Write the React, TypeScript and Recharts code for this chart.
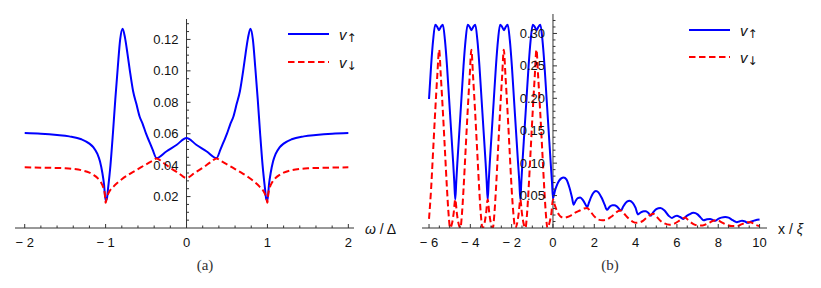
import React from "react";
import {
  LineChart,
  Line,
  XAxis,
  YAxis,
  ReferenceLine,
  ReferenceDot,
  Legend,
} from "recharts";

// ---- panel (a): omega / Delta ----
const aUpX = [
  -2, -1.8, -1.6, -1.45, -1.3, -1.2, -1.15, -1.1, -1.07, -1.04,
  -1.02, -1.0, -0.985, -0.97, -0.94, -0.91, -0.88, -0.85, -0.82, -0.79,
  -0.76, -0.73, -0.7, -0.66, -0.62, -0.58, -0.54, -0.5, -0.46, -0.42,
  -0.37, -0.25, -0.12, 0,
  0.12, 0.25, 0.37, 0.42, 0.46, 0.5, 0.54, 0.58, 0.62, 0.66,
  0.7, 0.73, 0.76, 0.79, 0.82, 0.85, 0.88, 0.91, 0.94, 0.97,
  0.985, 1.0, 1.02, 1.04, 1.07, 1.1, 1.15, 1.2, 1.3, 1.45,
  1.6, 1.8, 2,
];
const aUpV = [
  0.0604, 0.06, 0.0592, 0.0583, 0.0565, 0.0537, 0.0513, 0.047, 0.0425, 0.035,
  0.028, 0.0175, 0.0185, 0.025, 0.04, 0.06, 0.082, 0.102, 0.12, 0.1268,
  0.121, 0.111, 0.1, 0.087, 0.079, 0.071, 0.066, 0.06, 0.055, 0.05,
  0.0445, 0.0487, 0.053, 0.0573,
  0.053, 0.0487, 0.0445, 0.05, 0.055, 0.06, 0.066, 0.071, 0.079, 0.087,
  0.1, 0.111, 0.121, 0.1268, 0.12, 0.102, 0.082, 0.06, 0.04, 0.025,
  0.0185, 0.0175, 0.028, 0.035, 0.0425, 0.047, 0.0513, 0.0537, 0.0565, 0.0583,
  0.0592, 0.06, 0.0604,
];

const aDownX = [
  -2, -1.7, -1.5, -1.4, -1.3, -1.2, -1.15, -1.1, -1.06, -1.03,
  -1.01, -1.0, -0.985, -0.97, -0.95, -0.9, -0.8, -0.7, -0.6, -0.5,
  -0.42, -0.37, -0.3, -0.2, -0.1, 0,
  0.1, 0.2, 0.3, 0.37, 0.42, 0.5, 0.6, 0.7, 0.8, 0.9,
  0.95, 0.97, 0.985, 1.0, 1.01, 1.03, 1.06, 1.1, 1.15, 1.2,
  1.3, 1.4, 1.5, 1.7, 2,
];
const aDownV = [
  0.0386, 0.0383, 0.038, 0.0376, 0.0368, 0.0352, 0.0338, 0.0318, 0.0292, 0.026,
  0.0215, 0.016, 0.0195, 0.0215, 0.0235, 0.0265, 0.031, 0.0345, 0.0375, 0.0405,
  0.0428, 0.0443, 0.042, 0.0383, 0.035, 0.0318,
  0.035, 0.0383, 0.042, 0.0443, 0.0428, 0.0405, 0.0375, 0.0345, 0.031, 0.0265,
  0.0235, 0.0215, 0.0195, 0.016, 0.0215, 0.026, 0.0292, 0.0318, 0.0338, 0.0352,
  0.0368, 0.0376, 0.038, 0.0383, 0.0386,
];

const aXMajor = [-2, -1, 0, 1, 2];
const aXLabels = ["\u2212 2", "\u2212 1", "0", "1", "2"];
const aXTicks = [
  -2, -1.8, -1.6, -1.4, -1.2, -1, -0.8, -0.6, -0.4, -0.2, 0,
  0.2, 0.4, 0.6, 0.8, 1, 1.2, 1.4, 1.6, 1.8, 2,
];
const aYMajor = [0.02, 0.04, 0.06, 0.08, 0.1, 0.12];
const aYLabels = ["0.02", "0.04", "0.06", "0.08", "0.10", "0.12"];
const aYTicks = [
  0.005, 0.01, 0.015, 0.02, 0.025, 0.03, 0.035, 0.04, 0.045, 0.05,
  0.055, 0.06, 0.065, 0.07, 0.075, 0.08, 0.085, 0.09, 0.095, 0.1,
  0.105, 0.11, 0.115, 0.12, 0.125, 0.13,
];

// ---- panel (b): x / xi ----
const bUpX = [
  -6.0, -5.9, -5.8, -5.7, -5.6, -5.52, -5.43, -5.33, -5.23, -5.13,
  -5.03, -4.93, -4.83, -4.78, -4.73, -4.68, -4.63, -4.53, -4.43, -4.33,
  -4.23, -4.13, -4.03, -3.95, -3.86, -3.76, -3.66, -3.56, -3.46, -3.36,
  -3.26, -3.21, -3.16, -3.11, -3.06, -2.96, -2.86, -2.76, -2.66, -2.56,
  -2.46, -2.37, -2.29, -2.19, -2.09, -1.99, -1.89, -1.79, -1.69, -1.63,
  -1.58, -1.53, -1.48, -1.38, -1.28, -1.18, -1.08, -0.98, -0.88, -0.79,
  -0.71, -0.61, -0.51, -0.41, -0.31, -0.21, -0.11, -0.05, 0, 0.1,
  0.2, 0.3, 0.4, 0.52, 0.65, 0.8, 0.92, 1.0, 1.1, 1.2,
  1.32, 1.45, 1.58, 1.65, 1.75, 1.85, 1.95, 2.08, 2.2, 2.35,
  2.5, 2.61, 2.75, 2.88, 2.97, 3.1, 3.29, 3.4, 3.5, 3.6,
  3.7, 3.85, 4.0, 4.11, 4.25, 4.4, 4.5, 4.62, 4.74, 4.85,
  5.0, 5.2, 5.4, 5.6, 5.76, 5.9, 6.0, 6.15, 6.32, 6.45,
  6.6, 6.8, 7.0, 7.15, 7.29, 7.45, 7.61, 7.75, 7.85, 8.0,
  8.15, 8.34, 8.5, 8.7, 8.9, 9.05, 9.15, 9.3, 9.42, 9.6,
  9.8, 10.0,
];
const bUpV = [
  0.199, 0.25, 0.29, 0.3135, 0.31, 0.305, 0.31, 0.3135, 0.29, 0.25,
  0.2, 0.15, 0.1, 0.072, 0.044, 0.072, 0.1, 0.15, 0.2, 0.25,
  0.29, 0.3135, 0.31, 0.305, 0.31, 0.3135, 0.29, 0.25, 0.2, 0.15,
  0.1, 0.072, 0.044, 0.072, 0.1, 0.15, 0.2, 0.25, 0.29, 0.3135,
  0.31, 0.305, 0.31, 0.3135, 0.29, 0.25, 0.2, 0.15, 0.1, 0.072,
  0.044, 0.072, 0.1, 0.15, 0.2, 0.25, 0.29, 0.3135, 0.31, 0.305,
  0.31, 0.3135, 0.29, 0.25, 0.2, 0.15, 0.1, 0.072, 0.046, 0.058,
  0.067, 0.073, 0.0765, 0.078, 0.075, 0.062, 0.047, 0.036, 0.042, 0.046,
  0.047, 0.043, 0.036, 0.032, 0.04, 0.048, 0.054, 0.057, 0.055, 0.047,
  0.036, 0.028, 0.033, 0.035, 0.035, 0.033, 0.027, 0.033, 0.038, 0.041,
  0.042, 0.039, 0.031, 0.021, 0.024, 0.026, 0.026, 0.023, 0.019, 0.024,
  0.029, 0.031, 0.027, 0.019, 0.0155, 0.018, 0.019, 0.017, 0.014, 0.018,
  0.021, 0.0235, 0.021, 0.016, 0.012, 0.0135, 0.014, 0.012, 0.011, 0.014,
  0.016, 0.017, 0.016, 0.012, 0.009, 0.0105, 0.011, 0.01, 0.008, 0.01,
  0.012, 0.013,
];

const bDownX = [
  -6.0, -5.9, -5.8, -5.7, -5.6, -5.51, -5.43, -5.33, -5.23, -5.13,
  -5.05, -4.98, -4.88, -4.81, -4.73, -4.65, -4.58, -4.48, -4.41, -4.33,
  -4.23, -4.13, -4.03, -3.95, -3.87, -3.77, -3.67, -3.57, -3.49, -3.41,
  -3.31, -3.24, -3.16, -3.08, -3.01, -2.91, -2.84, -2.76, -2.66, -2.56,
  -2.46, -2.38, -2.3, -2.2, -2.1, -2.0, -1.91, -1.83, -1.73, -1.66,
  -1.58, -1.5, -1.43, -1.33, -1.26, -1.18, -1.08, -0.98, -0.88, -0.8,
  -0.72, -0.62, -0.52, -0.42, -0.34, -0.27, -0.17, -0.08, 0, 0.1,
  0.2, 0.3, 0.4, 0.55, 0.7, 0.9, 1.1, 1.3, 1.5, 1.65,
  1.8, 2.0, 2.2, 2.4, 2.6, 2.8, 3.0, 3.15, 3.3, 3.45,
  3.65, 3.85, 4.05, 4.3, 4.5, 4.7, 4.85, 5.0, 5.2, 5.4,
  5.65, 5.9, 6.1, 6.3, 6.4, 6.55, 6.8, 7.0, 7.25, 7.5,
  7.75, 7.95, 8.15, 8.4, 8.65, 8.9, 9.15, 9.4, 9.55, 9.8,
  10.0,
];
const bDownV = [
  0.014, 0.06, 0.12, 0.18, 0.235, 0.275, 0.235, 0.18, 0.12, 0.06,
  0.02, 0.0, 0.008, 0.022, 0.044, 0.022, 0.008, 0.0, 0.02, 0.06,
  0.12, 0.18, 0.235, 0.275, 0.235, 0.18, 0.12, 0.06, 0.02, 0.0,
  0.008, 0.022, 0.044, 0.022, 0.008, 0.0, 0.02, 0.06, 0.12, 0.18,
  0.235, 0.275, 0.235, 0.18, 0.12, 0.06, 0.02, 0.0, 0.008, 0.022,
  0.044, 0.022, 0.008, 0.0, 0.02, 0.06, 0.12, 0.18, 0.235, 0.275,
  0.235, 0.18, 0.12, 0.06, 0.02, 0.0, 0.008, 0.022, 0.044, 0.034,
  0.026, 0.02, 0.017, 0.016, 0.017, 0.02, 0.024, 0.027, 0.03, 0.031,
  0.026, 0.018, 0.013, 0.012, 0.013, 0.017, 0.022, 0.026, 0.027, 0.022,
  0.015, 0.01, 0.008, 0.01, 0.015, 0.02, 0.022, 0.018, 0.011, 0.007,
  0.005, 0.007, 0.011, 0.015, 0.016, 0.012, 0.006, 0.004, 0.004, 0.007,
  0.011, 0.012, 0.009, 0.005, 0.003, 0.003, 0.006, 0.009, 0.009, 0.005,
  0.003,
];

const bXMajor = [-6, -4, -2, 0, 2, 4, 6, 8, 10];
const bXLabels = ["\u2212 6", "\u2212 4", "\u2212 2", "0", "2", "4", "6", "8", "10"];
const bXTicks = [
  -6, -5.5, -5, -4.5, -4, -3.5, -3, -2.5, -2, -1.5, -1, -0.5, 0,
  0.5, 1, 1.5, 2, 2.5, 3, 3.5, 4, 4.5, 5, 5.5, 6, 6.5, 7, 7.5, 8,
  8.5, 9, 9.5, 10,
];
const bYMajor = [0.05, 0.1, 0.15, 0.2, 0.25, 0.3];
const bYLabels = ["0.05", "0.10", "0.15", "0.20", "0.25", "0.30"];
const bYTicks = [
  0.01, 0.02, 0.03, 0.04, 0.05, 0.06, 0.07, 0.08, 0.09, 0.1,
  0.11, 0.12, 0.13, 0.14, 0.15, 0.16, 0.17, 0.18, 0.19, 0.2,
  0.21, 0.22, 0.23, 0.24, 0.25, 0.26, 0.27, 0.28, 0.29, 0.3,
  0.31, 0.32,
];

const BLUE = "#0000ff";
const RED = "#ff0000";
const AXIS = "#333333";
const FONT = "'Liberation Sans', Arial, sans-serif";

const toPoints = (xs: number[], ys: number[]) =>
  xs.map((x, i) => ({ x, y: ys[i] }));

function XTick(props: any) {
  const { x, y, payload, majors, labels } = props;
  const i = majors.indexOf(payload.value);
  return (
    <g>
      <line x1={x} x2={x} y1={y} y2={y - (i >= 0 ? 4 : 2.5)} stroke={AXIS} />
      {i >= 0 && (
        <text x={x} y={y + 19} textAnchor="middle" fontSize={13} fontFamily={FONT} fill="#111">
          {labels[i]}
        </text>
      )}
    </g>
  );
}

function YTick(props: any) {
  const { cx, cy, label } = props;
  return (
    <g>
      <line x1={cx} x2={cx + (label ? 4 : 2.5)} y1={cy} y2={cy} stroke={AXIS} />
      {label && (
        <text x={cx - 8} y={cy + 4.5} textAnchor="end" fontSize={13} fontFamily={FONT} fill="#111">
          {label}
        </text>
      )}
    </g>
  );
}

function LegendBox({ redY }: { redY: number }) {
  return (
    <svg width={110} height={redY + 14} style={{ display: "block" }}>
      <line x1={0} x2={41} y1={14} y2={14} stroke={BLUE} strokeWidth={2} />
      <text x={51} y={20} fontFamily={FONT} fill="#111">
        <tspan fontSize={15} fontStyle="italic">v</tspan>
        <tspan fontSize={12} dy={2} fontFamily="'DejaVu Sans', sans-serif">↑</tspan>
      </text>
      <line x1={0} x2={41} y1={redY} y2={redY} stroke={RED} strokeWidth={2} strokeDasharray="6.5 3.5" />
      <text x={51} y={redY + 6} fontFamily={FONT} fill="#111">
        <tspan fontSize={15} fontStyle="italic">v</tspan>
        <tspan fontSize={12} dy={2} fontFamily="'DejaVu Sans', sans-serif">↓</tspan>
      </text>
    </svg>
  );
}

type PanelProps = {
  left: number;
  width: number;
  margin: { top: number; right: number; bottom: number; left: number };
  xDomain: [number, number];
  yDomain: [number, number];
  xTicks: number[];
  xMajor: number[];
  xLabels: string[];
  yTicks: number[];
  yMajor: number[];
  yLabels: string[];
  up: { x: number; y: number }[];
  down: { x: number; y: number }[];
  axisLabel: React.ReactNode;
  legendPos: { left: number; top: number; redY: number };
};

function Panel(p: PanelProps) {
  return (
    <div style={{ position: "absolute", left: p.left, top: 0 }}>
      <LineChart width={p.width} height={288} margin={p.margin}>
        <XAxis
          dataKey="x"
          type="number"
          domain={p.xDomain}
          allowDataOverflow
          ticks={p.xTicks}
          interval={0}
          height={30}
          tickSize={0}
          tickMargin={0}
          tickLine={false}
          axisLine={{ stroke: AXIS }}
          tick={(t: any) => <XTick {...t} majors={p.xMajor} labels={p.xLabels} />}
          label={{
            content: (lp: any) => {
              const vb = lp.viewBox;
              return (
                <text x={vb.x + vb.width + 11} y={vb.y + 5.5} fontSize={14} fontFamily={FONT} fill="#111">
                  {p.axisLabel}
                </text>
              );
            },
          }}
        />
        <YAxis hide type="number" domain={p.yDomain} allowDataOverflow />
        <ReferenceLine x={0} stroke={AXIS} />
        {p.yTicks.map((v) => {
          const i = p.yMajor.findIndex((m) => Math.abs(m - v) < 1e-9);
          return (
            <ReferenceDot
              key={v}
              x={0}
              y={v}
              r={0}
              shape={(s: any) => <YTick {...s} label={i >= 0 ? p.yLabels[i] : null} />}
            />
          );
        })}
        <Line
          data={p.up}
          dataKey="y"
          type="monotone"
          stroke={BLUE}
          strokeWidth={2}
          dot={false}
          isAnimationActive={false}
        />
        <Line
          data={p.down}
          dataKey="y"
          type="monotone"
          stroke={RED}
          strokeWidth={2}
          strokeDasharray="6.5 3.5"
          dot={false}
          isAnimationActive={false}
        />
        <Legend
          layout="vertical"
          align="center"
          verticalAlign="middle"
          wrapperStyle={{ left: p.legendPos.left, top: p.legendPos.top, width: 110 }}
          content={() => <LegendBox redY={p.legendPos.redY} />}
        />
      </LineChart>
    </div>
  );
}

const captionStyle: React.CSSProperties = {
  position: "absolute",
  top: 255,
  width: 40,
  textAlign: "center",
  fontFamily: "'Liberation Serif', 'DejaVu Serif', serif",
  fontSize: 15,
  lineHeight: "20px",
  color: "#333",
};

export default function App() {
  return (
    <div style={{ position: "absolute", left: 0, top: 0, width: 821, height: 288, background: "#fff" }}>
      <Panel
        left={0}
        width={410}
        margin={{ top: 19, right: 56, bottom: 30, left: 15 }}
        xDomain={[-2.12, 2.07]}
        yDomain={[0, 0.133]}
        xTicks={aXTicks}
        xMajor={aXMajor}
        xLabels={aXLabels}
        yTicks={aYTicks}
        yMajor={aYMajor}
        yLabels={aYLabels}
        up={toPoints(aUpX, aUpV)}
        down={toPoints(aDownX, aDownV)}
        axisLabel={
          <>
            <tspan fontStyle="italic">ω</tspan>
            <tspan> / Δ</tspan>
          </>
        }
        legendPos={{ left: 288, top: 20, redY: 42 }}
      />
      <Panel
        left={410}
        width={411}
        margin={{ top: 14, right: 54, bottom: 30, left: 12 }}
        xDomain={[-6.34, 10.36]}
        yDomain={[0, 0.33]}
        xTicks={bXTicks}
        xMajor={bXMajor}
        xLabels={bXLabels}
        yTicks={bYTicks}
        yMajor={bYMajor}
        yLabels={bYLabels}
        up={toPoints(bUpX, bUpV)}
        down={toPoints(bDownX, bDownV)}
        axisLabel={
          <>
            <tspan>x / </tspan>
            <tspan fontStyle="italic">ξ</tspan>
          </>
        }
        legendPos={{ left: 279, top: 16, redY: 41 }}
      />
      <div style={{ ...captionStyle, left: 185 }}>(a)</div>
      <div style={{ ...captionStyle, left: 590 }}>(b)</div>
    </div>
  );
}
